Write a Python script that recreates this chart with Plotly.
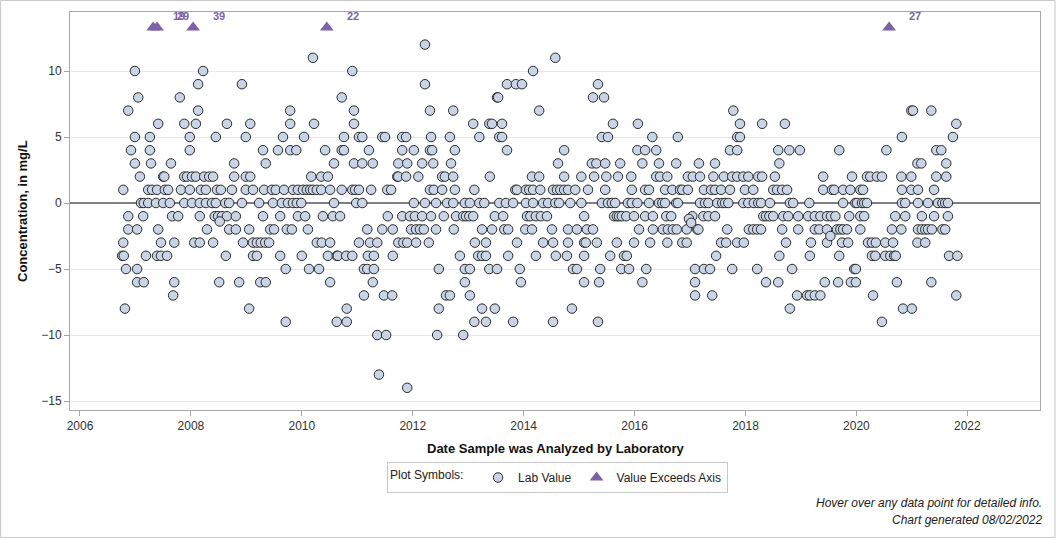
import plotly.graph_objects as go

# Sample dates (decimal years) grouped by reported concentration, in mg/L
yr_p12 = [2012.22]
yr_p11 = [2010.20, 2014.57]
yr_p10 = [2006.99, 2008.22, 2010.91, 2014.17]
yr_p9 = [2008.13, 2008.92, 2012.22, 2013.70, 2013.86, 2013.97, 2015.34]
yr_p8 = [2007.05, 2007.80, 2010.72, 2013.52, 2013.54, 2015.25, 2015.45]
yr_p7 = [2006.87, 2008.13, 2009.79, 2010.94, 2012.31, 2012.73, 2014.28, 2017.78,
         2020.99, 2021.02, 2021.35]
yr_p6 = [2007.41, 2007.88, 2008.09, 2008.65, 2009.07, 2009.79, 2010.22, 2010.94,
         2013.09, 2013.38, 2013.43, 2013.61, 2015.61, 2016.06, 2017.90, 2018.30,
         2018.71, 2021.80]
yr_p5 = [2006.99, 2007.26, 2007.98, 2008.45, 2008.99, 2009.66, 2010.04, 2010.76,
         2011.03, 2011.09, 2011.45, 2011.50, 2011.81, 2011.88, 2012.33, 2012.67,
         2013.20, 2013.56, 2013.61, 2015.41, 2015.52, 2016.32, 2016.78, 2017.85,
         2017.90, 2020.82, 2021.74]
yr_p4 = [2006.92, 2007.26, 2007.98, 2009.30, 2009.57, 2009.79, 2009.90, 2010.42,
         2010.72, 2010.76, 2011.21, 2011.81, 2012.02, 2012.31, 2012.35, 2012.76,
         2013.70, 2014.73, 2016.05, 2016.19, 2016.39, 2017.72, 2017.85, 2018.59,
         2018.79, 2018.98, 2019.69, 2020.54, 2021.44, 2021.53]
yr_p3 = [2006.99, 2007.28, 2007.64, 2008.78, 2009.35, 2010.58, 2010.94, 2011.09,
         2011.28, 2011.74, 2011.90, 2012.17, 2012.37, 2012.69, 2014.62, 2015.23,
         2015.31, 2015.47, 2015.74, 2016.14, 2016.44, 2016.75, 2017.16, 2017.45,
         2018.61, 2021.10, 2021.17, 2021.62]
yr_p2 = [2007.08, 2007.50, 2007.52, 2007.88, 2007.93, 2008.02, 2008.09, 2008.24,
         2008.33, 2008.40, 2008.78, 2008.99, 2009.07, 2010.17, 2010.35, 2010.47,
         2011.72, 2011.74, 2011.88, 2012.10, 2012.53, 2012.58, 2012.73, 2013.39,
         2014.15, 2014.28, 2014.73, 2015.04, 2015.27, 2015.49, 2015.70, 2015.94,
         2016.39, 2016.46, 2016.59, 2016.96, 2017.05, 2017.18, 2017.42, 2017.61,
         2017.76, 2017.85, 2017.96, 2018.05, 2018.23, 2018.30, 2018.53, 2019.40,
         2019.92, 2020.19, 2020.25, 2020.37, 2020.46, 2020.81, 2020.99, 2021.44,
         2021.62]
yr_p1 = [2006.78, 2007.23, 2007.30, 2007.39, 2007.53, 2007.59, 2007.82, 2007.98,
         2008.18, 2008.27, 2008.47, 2008.54, 2008.74, 2008.99, 2009.12, 2009.32,
         2009.46, 2009.53, 2009.68, 2009.84, 2009.93, 2010.02, 2010.09, 2010.15,
         2010.20, 2010.27, 2010.35, 2010.51, 2010.72, 2010.91, 2010.96, 2011.03,
         2011.25, 2011.54, 2011.61, 2012.31, 2012.38, 2012.53, 2012.76, 2013.11,
         2013.85, 2013.88, 2014.04, 2014.10, 2014.17, 2014.30, 2014.53, 2014.60,
         2014.66, 2014.73, 2014.80, 2014.93, 2015.16, 2015.47, 2015.95, 2016.19,
         2016.26, 2016.55, 2016.68, 2016.82, 2016.86, 2016.96, 2017.25, 2017.38,
         2017.45, 2017.56, 2017.72, 2017.99, 2018.14, 2018.50, 2018.57, 2018.66,
         2018.75, 2019.40, 2019.56, 2019.60, 2019.76, 2019.89, 2020.07, 2020.12,
         2020.82, 2020.99, 2021.11, 2021.40]
yr_0 = [2007.10, 2007.15, 2007.23, 2007.37, 2007.50, 2007.62, 2007.88, 2008.02,
        2008.16, 2008.27, 2008.38, 2008.45, 2008.62, 2008.69, 2008.92, 2009.23,
        2009.48, 2009.64, 2009.75, 2009.84, 2009.91, 2009.99, 2010.58, 2010.98,
        2011.09, 2012.02, 2012.22, 2012.42, 2012.62, 2012.73, 2012.94, 2013.03,
        2013.20, 2013.29, 2013.56, 2013.68, 2013.81, 2014.04, 2014.17, 2014.35,
        2014.44, 2014.57, 2014.64, 2014.84, 2015.04, 2015.41, 2015.52, 2015.59,
        2015.65, 2015.88, 2015.95, 2016.05, 2016.26, 2016.44, 2016.50, 2016.55,
        2016.75, 2016.78, 2017.18, 2017.27, 2017.33, 2017.49, 2017.58, 2017.63,
        2017.69, 2017.96, 2018.05, 2018.15, 2018.23, 2018.28, 2018.44, 2018.80,
        2018.86, 2019.15, 2019.76, 2019.98, 2020.01, 2020.10, 2020.14, 2020.19,
        2020.82, 2020.88, 2021.11, 2021.29, 2021.47, 2021.55, 2021.60, 2021.65]
yr_m1 = [2006.87, 2007.14, 2007.66, 2007.77, 2008.16, 2008.43, 2008.49, 2008.56,
         2008.65, 2008.81, 2009.30, 2009.61, 2009.93, 2010.06, 2010.38, 2010.56,
         2010.69, 2011.55, 2011.81, 2011.95, 2012.04, 2012.17, 2012.33, 2012.56,
         2012.78, 2012.91, 2012.96, 2013.02, 2013.09, 2013.48, 2013.63, 2014.06,
         2014.12, 2014.22, 2014.31, 2014.42, 2015.09, 2015.63, 2015.68, 2015.72,
         2015.77, 2015.85, 2015.99, 2016.19, 2016.33, 2016.57, 2016.66, 2017.04,
         2017.24, 2017.33, 2017.45, 2018.32, 2018.37, 2018.43, 2018.50, 2018.68,
         2018.77, 2018.95, 2019.13, 2019.25, 2019.35, 2019.47, 2019.54, 2019.62,
         2019.87, 2020.07, 2020.14, 2020.70, 2020.88, 2021.18, 2021.40, 2021.65]
yr_m2 = [2006.87, 2007.03, 2007.41, 2008.29, 2008.69, 2008.81, 2009.05, 2009.43,
         2009.50, 2009.73, 2009.82, 2010.11, 2011.18, 2011.45, 2011.64, 2011.97,
         2012.06, 2012.13, 2012.20, 2012.42, 2012.74, 2013.25, 2013.43, 2013.65,
         2013.72, 2014.03, 2014.15, 2014.51, 2014.80, 2014.96, 2015.14, 2015.25,
         2016.08, 2016.33, 2016.51, 2016.60, 2016.69, 2016.76, 2016.94, 2017.13,
         2017.15, 2017.67, 2018.06, 2018.14, 2018.21, 2018.28, 2018.66, 2018.95,
         2019.25, 2019.33, 2019.47, 2019.65, 2019.71, 2019.76, 2019.83, 2020.07,
         2020.64, 2020.81, 2021.11, 2021.18, 2021.24, 2021.29, 2021.36, 2021.55,
         2021.60]
yr_m3 = [2006.78, 2007.46, 2007.70, 2008.06, 2008.16, 2008.40, 2008.94, 2009.12,
         2009.19, 2009.26, 2009.34, 2009.41, 2010.27, 2010.36, 2010.51, 2011.03,
         2011.23, 2011.36, 2011.74, 2011.83, 2011.90, 2012.06, 2012.29, 2013.12,
         2013.32, 2013.88, 2014.35, 2014.53, 2014.80, 2015.09, 2015.12, 2015.32,
         2015.68, 2015.99, 2016.28, 2016.59, 2016.86, 2016.94, 2017.56, 2017.65,
         2017.85, 2017.97, 2018.73, 2019.18, 2019.47, 2019.74, 2019.85, 2020.21,
         2020.28, 2020.35, 2020.52, 2020.66, 2021.10, 2021.24]
yr_m4 = [2006.76, 2006.79, 2007.19, 2007.39, 2007.46, 2007.57, 2008.63, 2009.12,
         2009.19, 2009.61, 2010.00, 2010.47, 2010.63, 2010.65, 2010.80, 2010.91,
         2011.19, 2011.30, 2011.64, 2012.85, 2013.18, 2013.25, 2013.32, 2013.72,
         2014.22, 2014.58, 2014.78, 2015.09, 2015.56, 2015.81, 2015.86, 2017.47,
         2018.61, 2019.16, 2019.69, 2020.28, 2020.34, 2020.52, 2020.61, 2020.68,
         2020.71, 2021.67, 2021.82]
yr_m5 = [2006.83, 2007.03, 2009.71, 2010.13, 2010.31, 2011.12, 2011.18, 2011.30,
         2012.47, 2012.94, 2013.03, 2013.38, 2013.52, 2013.93, 2014.89, 2014.96,
         2015.38, 2015.76, 2015.90, 2016.21, 2017.09, 2017.25, 2017.36, 2017.76,
         2018.21, 2018.84, 2019.96, 2019.99]
yr_m6 = [2007.03, 2007.15, 2007.70, 2008.51, 2008.87, 2009.25, 2009.35, 2010.51,
         2011.28, 2012.94, 2013.95, 2015.09, 2015.36, 2016.14, 2017.09, 2018.37,
         2018.59, 2019.43, 2019.67, 2019.90, 2019.99, 2020.73, 2021.35]
yr_m7 = [2007.68, 2011.12, 2011.48, 2011.63, 2012.60, 2012.67, 2013.03, 2017.09,
         2017.40, 2018.93, 2019.11, 2019.16, 2019.25, 2019.35, 2020.30, 2021.80]
yr_m8 = [2006.81, 2009.05, 2010.81, 2012.47, 2013.25, 2013.48, 2014.87, 2018.80,
         2020.84, 2021.00]
yr_m9 = [2009.71, 2010.63, 2010.81, 2013.11, 2013.32, 2013.81, 2014.53, 2015.34,
         2020.46]
yr_m10 = [2011.36, 2011.52, 2012.44, 2012.91]
yr_m13 = [2011.39]
yr_m14 = [2011.90]

# a few non-integer results
odd_years = [2008.52, 2016.98, 2017.02, 2019.53]
odd_values = [-1.4, -1.2, -1.5, -2.5]

# results above the top of the axis (plotted as triangles, labelled with value)
exceed_years = [2007.32, 2007.39, 2008.04, 2010.45, 2020.59]
exceed_values = [19, 29, 39, 22, 27]

x_ticks = [2006, 2008, 2010, 2012, 2014, 2016, 2018, 2020, 2022]
y_ticks = [-15, -10, -5, 0, 5, 10]

groups = [
    (12, yr_p12), (11, yr_p11), (10, yr_p10), (9, yr_p9), (8, yr_p8), (7, yr_p7),
    (6, yr_p6), (5, yr_p5), (4, yr_p4), (3, yr_p3), (2, yr_p2), (1, yr_p1),
    (0, yr_0), (-1, yr_m1), (-2, yr_m2), (-3, yr_m3), (-4, yr_m4), (-5, yr_m5),
    (-6, yr_m6), (-7, yr_m7), (-8, yr_m8), (-9, yr_m9), (-10, yr_m10),
    (-13, yr_m13), (-14, yr_m14),
]
lab_x, lab_y = [], []
for val, yrs in groups:
    lab_x += yrs
    lab_y += [val] * len(yrs)
lab_x += odd_years
lab_y += odd_values

Y_MIN, Y_MAX = -15.68, 14.47
EXCEED_LEVEL = 13.3

FONT = "Liberation Sans, Arial, sans-serif"
PURPLE = "#7d62a6"

fig = go.Figure()
fig.add_trace(go.Scatter(
    x=lab_x, y=lab_y, mode="markers", name="Lab Value",
    marker=dict(symbol="circle", size=9.5, color="#c9d5e6",
                line=dict(color="#2a2a2a", width=1)),
))
fig.add_trace(go.Scatter(
    x=exceed_years, y=[EXCEED_LEVEL] * len(exceed_years), mode="markers",
    name="Value Exceeds Axis",
    marker=dict(symbol="triangle-up", size=12, color=PURPLE,
                line=dict(width=0)),
))
for xv, val in zip(exceed_years, exceed_values):
    fig.add_annotation(x=xv, y=EXCEED_LEVEL, text=f"<b>{val}</b>", showarrow=False,
                       xshift=26, yshift=11,
                       font=dict(family=FONT, size=11, color=PURPLE))

fig.add_annotation(text="<b>Date Sample was Analyzed by Laboratory</b>",
                   xref="paper", yref="paper", x=0.501, y=-0.0955,
                   xanchor="center", yanchor="middle", showarrow=False,
                   font=dict(family=FONT, size=13, color="#111"))
fig.add_annotation(text="<b>Concentration, in mg/L</b>",
                   xref="paper", yref="paper", x=-0.0495, y=0.5, textangle=-90,
                   xanchor="center", yanchor="middle", showarrow=False,
                   font=dict(family=FONT, size=13, color="#111"))
fig.add_annotation(text="<i>Hover over any data point for detailed info.</i>",
                   xref="paper", yref="paper", x=1.004, y=-0.2335,
                   xanchor="right", yanchor="middle", showarrow=False,
                   font=dict(family=FONT, size=12, color="#222"))
fig.add_annotation(text="<i>Chart generated 08/02/2022</i>",
                   xref="paper", yref="paper", x=1.004, y=-0.2765,
                   xanchor="right", yanchor="middle", showarrow=False,
                   font=dict(family=FONT, size=12, color="#222"))

fig.add_shape(type="rect", xref="paper", yref="paper",
              x0=-0.0716, x1=1.0155, y0=-0.3203, y1=1.0290,
              line=dict(color="#c8c8c8", width=1), layer="below")

fig.update_layout(
    width=1056, height=538,
    margin=dict(l=70, r=16, t=12, b=128),
    paper_bgcolor="white", plot_bgcolor="white",
    font=dict(family=FONT, size=12, color="#333"),
    showlegend=True,
    legend=dict(
        orientation="h", x=0.5026, y=-0.1307, xanchor="center", yanchor="top",
        bordercolor="#c8c8c8", borderwidth=1, bgcolor="white", valign="middle",
        title=dict(text="Plot Symbols:&nbsp;&nbsp;", side="left",
                   font=dict(family=FONT, size=12, color="#222")),
        font=dict(family=FONT, size=12, color="#222"),
    ),
    xaxis=dict(
        range=[2005.82, 2023.31], tickmode="array", tickvals=x_ticks,
        showgrid=False, zeroline=False,
        showline=True, linecolor="#a8a8a8", linewidth=1, mirror=True,
        ticks="outside", ticklen=5, tickcolor="#a8a8a8",
        tickfont=dict(family=FONT, size=12, color="#333"),
    ),
    yaxis=dict(
        range=[Y_MIN, Y_MAX], tickmode="array", tickvals=y_ticks,
        showgrid=True, gridcolor="#e8e8e8", gridwidth=1,
        zeroline=True, zerolinecolor="#808080", zerolinewidth=2,
        showline=True, linecolor="#a8a8a8", linewidth=1, mirror=True,
        ticks="outside", ticklen=5, tickcolor="#a8a8a8",
        tickfont=dict(family=FONT, size=12, color="#333"),
    ),
)

fig.write_html(
    "out.html",
    config={"displayModeBar": False},
    post_script="document.body.style.margin='0';document.body.style.overflow='hidden';",
)
